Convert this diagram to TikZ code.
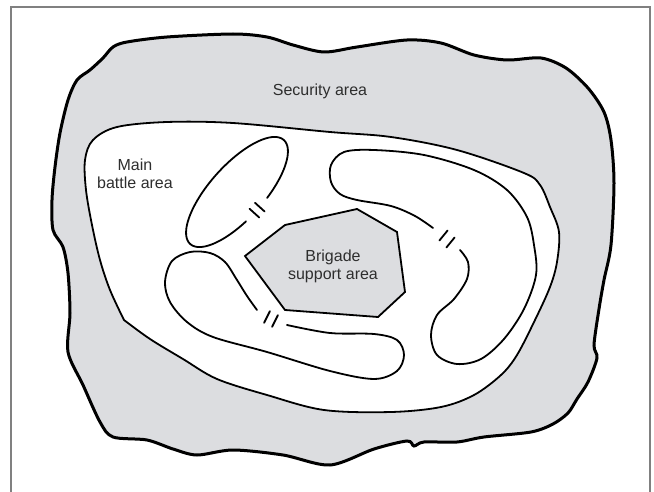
\documentclass[tikz,border=0pt]{standalone}
\usepackage{fontspec}
\setmainfont{Liberation Sans}
\usepackage{xcolor}
\usepackage{tikz}
\definecolor{areagray}{HTML}{DCDDE0}
\definecolor{textgray}{HTML}{2E2E2E}
\definecolor{framegray}{HTML}{808080}

\begin{document}
\begin{tikzpicture}[x=1pt, y=-1pt,
        edge/.style={line width=1.8pt, line join=round, line cap=round},
        brk/.style={line width=1.8pt, line cap=round},
        lbl/.style={align=center, text=textgray, font=\fontsize{16}{18}\selectfont}]
        \useasboundingbox (0,0) rectangle (654,492);
        % Frame
        \draw[framegray, line width=1.5pt] (11,492) -- (11,7) -- (650,7) -- (650,492);
        % Security area
        \filldraw[fill=areagray, line width=3pt] plot[smooth cycle, tension=0.5] coordinates {
            (113,47) (127,42) (167,37) (233,34) (267,37) (293,45) (324,52) (357,47) (407,40)
            (441,43) (474,55) (507,60) (541,58) (566,68) (588,88) (604,112) (611,140) (614,183)
            (611,245) (604,280) (599,309) (594,345) (597,358) (588,382) (577,399) (568,413)
            (553,424) (531,432) (484,437) (457,442) (424,442) (414,446) (407,441) (374,449)
            (330,465) (283,455) (233,450) (197,455) (173,449) (147,440) (113,437) (100,422)
            (83,385) (68,352) (70,313) (68,273) (63,247) (53,230) (52,200) (55,167) (60,133)
            (68,100) (77,80) (90,70) (103,58)};
        % Main battle area
        \filldraw[fill=white, edge] plot[smooth, tension=0.55] coordinates {
            (124,320) (150,339) (183,359) (217,379) (267,395) (324,410) (391,412) (441,407)
            (474,395) (501,375) (517,355) (535,320) (550,287) (557,262) (559,232) (550,207)
            (540,185) (524,173) (457,150) (391,137) (330,132) (233,123) (167,122) (117,127)
            (93,140) (85,160) (86,190) (92,225) (100,260) (110,290) (124,320)} -- cycle;
        % Brigade support area
        \filldraw[fill=areagray, line width=1.8pt, line join=miter]
            (245,256) -- (285,225) -- (357,209) -- (397,232) -- (405,292) -- (378,317) -- (285,310) -- cycle;
        % Upper left unit
        \draw[edge] plot[domain=103:437, samples=90, variable=\t]
            ({237+46.8*cos(\t)+20.1*sin(\t)}, {192-52*cos(\t)+18.1*sin(\t)});
        \draw[brk] (255,202.8) -- (264.6,211.5);
        \draw[brk] (249.6,208.8) -- (259.2,217.5);
        % Right unit
        \draw[edge] plot[smooth, tension=0.55] coordinates {
            (460,250) (468,262) (467,279) (454,299) (437,315) (431,335) (437,355) (457,364)
            (481,359) (504,339) (524,309) (536,275) (534,245) (527,217) (507,190) (474,170)
            (424,155) (374,150) (344,152) (331,165) (331,182) (340,194) (357,200) (391,206)
            (415,216) (433,228)};
        \draw[brk] (439.4,240.5) -- (447.6,230.5);
        \draw[brk] (446.4,247.5) -- (454.6,237.5);
        % Lower left unit
        \draw[edge] plot[smooth, tension=0.55] coordinates {
            (287,325) (330,333) (374,334) (397,340) (404,355) (397,371) (374,379) (330,371)
            (267,352) (213,337) (187,322) (170,302) (165,282) (172,261) (190,252) (210,253)
            (225,262) (237,280) (247,296) (257,310)};
        \draw[brk] (264.1,322.8) -- (269.9,311.2);
        \draw[brk] (272.1,326.8) -- (277.9,315.2);
        % Labels
        \node[lbl] (security) at (320,91) {Security area};
        \node[lbl] (main) at (135,174) {Main\\battle area};
        \node[lbl] (brigade) at (333,266) {Brigade\\support area};
    \end{tikzpicture}
\end{document}
